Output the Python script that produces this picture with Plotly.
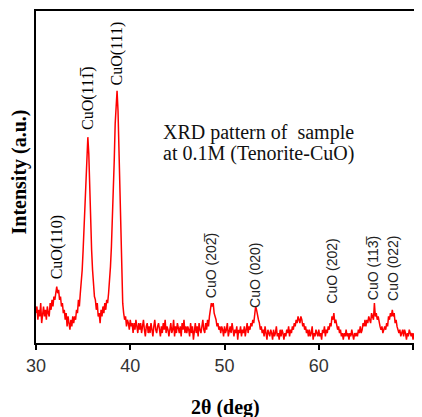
import numpy as np
import plotly.graph_objects as go

# 2theta scan grid (deg), 0.1 deg step
two_theta = np.round(np.arange(30.0, 71.05, 0.1), 1)

# intensity (a.u.), one row per degree
intensity = [
    9, 11, 7, 10, 8, 12, 6, 9, 11, 8,        # 30
    10, 7, 11, 9, 8, 12, 10, 13, 11, 14,     # 31
    13, 15, 17, 15, 16, 13, 14, 11, 12, 9,   # 32
    10, 7, 9, 5, 8, 6, 4, 7, 5, 8,           # 33
    6, 8, 7, 10, 9, 13, 11, 15, 18, 22,      # 34
    28, 35, 44, 53, 60, 62, 57, 46, 36, 28,  # 35
    22, 17, 14, 13, 10, 12, 8, 9, 6, 10,     # 36
    8, 11, 9, 12, 10, 13, 12, 15, 18, 23,    # 37
    29, 36, 45, 55, 66, 72, 76, 70, 58, 44,  # 38
    30, 19, 12, 9, 7, 8, 5, 7, 6, 4,         # 39
    7, 5, 6, 3, 6, 4, 7, 5, 3, 6,            # 40
    4, 6, 3, 5, 7, 4, 2, 5, 6, 3,            # 41
    5, 3, 6, 4, 2, 5, 7, 4, 3, 5,            # 42
    6, 4, 2, 5, 3, 6, 4, 7, 3, 5,            # 43
    4, 2, 5, 6, 3, 4, 7, 2, 5, 3,            # 44
    6, 4, 3, 5, 2, 6, 4, 7, 3, 5,            # 45
    3, 5, 4, 2, 6, 3, 5, 1, 4, 6,            # 46
    3, 5, 2, 6, 4, 3, 5, 7, 4, 3,            # 47
    6, 4, 7, 5, 8, 10, 12, 11, 12, 9,        # 48
    8, 7, 5, 6, 4, 5, 3, 5, 4, 2,            # 49
    5, 3, 4, 6, 2, 4, 5, 3, 6, 4,            # 50
    2, 4, 3, 5, 1, 4, 3, 5, 2, 4,            # 51
    3, 5, 2, 4, 6, 3, 5, 4, 6, 5,            # 52
    7, 6, 9, 11, 10, 8, 7, 6, 4, 5,          # 53
    3, 4, 2, 5, 3, 1, 4, 3, 2, 4,            # 54
    3, 1, 4, 2, 3, 5, 2, 3, 1, 4,            # 55
    2, 4, 3, 1, 3, 2, 4, 3, 5, 2,            # 56
    4, 3, 5, 4, 6, 5, 7, 6, 8, 7,            # 57
    6, 8, 7, 5, 6, 4, 5, 3, 4, 2,            # 58
    4, 2, 3, 5, 1, 3, 2, 4, 3, 2,            # 59
    4, 2, 3, 1, 4, 3, 5, 2, 4, 3,            # 60
    5, 4, 6, 5, 8, 7, 9, 6, 7, 5,            # 61
    4, 5, 3, 4, 2, 3, 1, 3, 2, 4,            # 62
    2, 3, 1, 3, 2, 4, 2, 1, 3, 2,            # 63
    3, 2, 4, 3, 5, 3, 4, 6, 5, 7,            # 64
    5, 7, 6, 8, 7, 6, 9, 8, 7, 12,           # 65
    8, 9, 7, 8, 6, 5, 4, 5, 3, 4,            # 66
    5, 4, 6, 5, 8, 7, 9, 8, 10, 8,           # 67
    9, 6, 7, 5, 4, 3, 4, 2, 3, 4,            # 68
    2, 4, 3, 1, 3, 2, 4, 3, 2, 3,            # 69
    1, 3, 2, 4, 3, 2, 3, 1, 3, 2,            # 70
    3,                                       # 71
]

# peak labels
peak_labels = ["CuO(110)", "CuO(111\u0305)", "CuO(111)", "CuO (202\u0305)",
               "CuO (020)", "CuO (202)", "CuO (113\u0305)", "CuO (022)"]
peak_pos = [32.2, 35.5, 38.6, 48.6, 53.3, 61.4, 65.7, 67.8]
label_base = [18.5, 63.5, 77.0, 13.0, 10.0, 11.4, 12.3, 12.0]
label_serif = [True, True, True, False, False, False, False, False]

x_ticks = [30, 40, 50, 60, 70]

fig = go.Figure()
fig.add_trace(go.Scatter(x=two_theta, y=intensity, mode="lines",
                         line=dict(color="#ff0000", width=1.5),
                         showlegend=False, hoverinfo="skip"))

for lab, xp, yb, serif in zip(peak_labels, peak_pos, label_base, label_serif):
    fig.add_annotation(
        x=xp, y=yb, text=lab, textangle=-90, showarrow=False,
        xanchor="center", yanchor="bottom",
        font=dict(family="Liberation Serif" if serif else "Liberation Sans",
                  size=16 if serif else 14,
                  color="#000" if serif else "#222"))

fig.add_annotation(x=43.3, y=63.3, text="XRD pattern of\u00a0 sample",
                   showarrow=False, xanchor="left", yanchor="middle",
                   font=dict(family="Liberation Serif", size=20, color="#111"))
fig.add_annotation(x=43.3, y=57.2, text="at 0.1M (Tenorite-CuO)",
                   showarrow=False, xanchor="left", yanchor="middle",
                   font=dict(family="Liberation Serif", size=20, color="#111"))

# axis titles placed in paper coordinates
fig.add_annotation(xref="paper", yref="paper", x=0.49, y=(343 - 407) / 332,
                   text="<b>2\u03b8 (deg)</b>", showarrow=False,
                   xanchor="center", yanchor="middle",
                   font=dict(family="Liberation Serif", size=20, color="#000"))
fig.add_annotation(xref="paper", yref="paper", x=(18.5 - 36) / 386, y=(343 - 172) / 332,
                   text="<b>Intensity (a.u.)</b>", showarrow=False, textangle=-90,
                   xanchor="center", yanchor="middle",
                   font=dict(family="Liberation Serif", size=20, color="#000"))

# page body has an 8px default margin, so the figure is 8px smaller
fig.update_layout(
    width=414, height=409,
    margin=dict(l=28, r=0, t=3, b=74),
    paper_bgcolor="white", plot_bgcolor="white",
    xaxis=dict(range=[30, 70.95], tickvals=x_ticks, ticks="outside",
               ticklen=5, tickwidth=1.5, tickcolor="#000",
               showline=True, linecolor="#000", linewidth=2, mirror=True,
               showgrid=False, zeroline=False, automargin=False,
               tickfont=dict(family="Liberation Sans", size=18, color="#333")),
    yaxis=dict(range=[0, 100], showticklabels=False, ticks="",
               showline=True, linecolor="#000", linewidth=2, mirror=False,
               showgrid=False, zeroline=False, automargin=False),
)

fig.write_html("out.html")
